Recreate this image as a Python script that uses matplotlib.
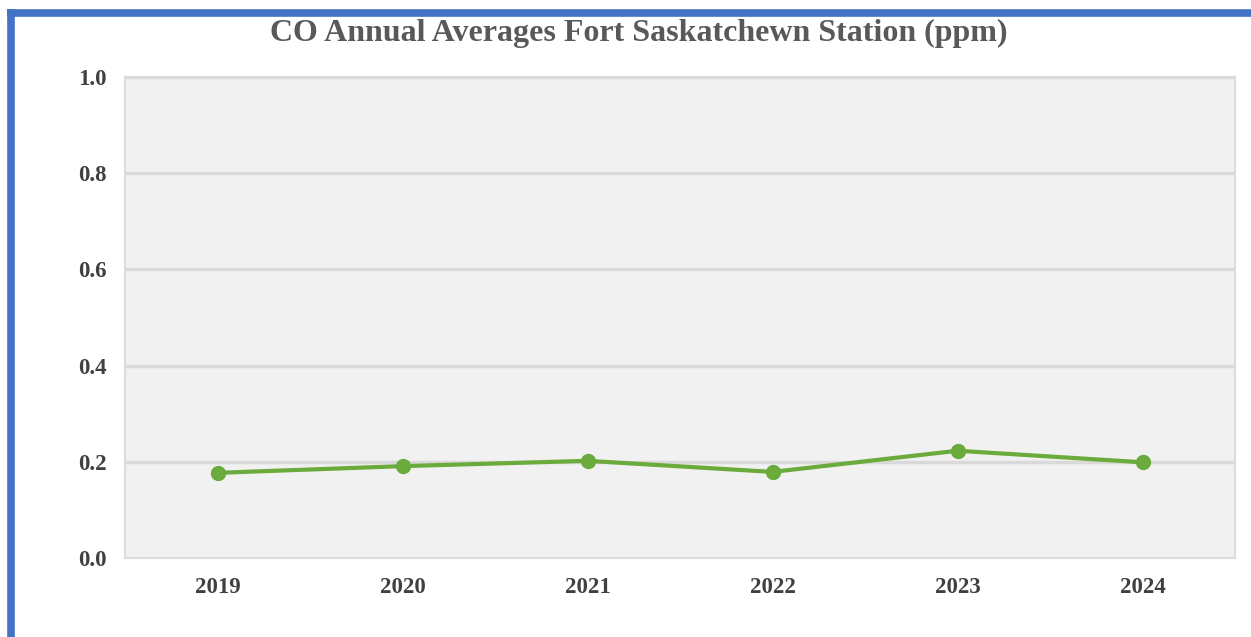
import matplotlib.pyplot as plt
from matplotlib.lines import Line2D

years = ["2019", "2020", "2021", "2022", "2023", "2024"]
co_ppm = [0.177, 0.191, 0.202, 0.179, 0.223, 0.199]
y_ticks = [0.0, 0.2, 0.4, 0.6, 0.8, 1.0]

W, H = 1251, 637
fig = plt.figure(figsize=(W / 100, H / 100), dpi=100)
fig.patch.set_facecolor("white")

# plot area in pixel terms
left, right, top, bottom = 125, 1235, 77, 558
ax = fig.add_axes([left / W, 1 - bottom / H, (right - left) / W, (bottom - top) / H])
ax.set_facecolor("#f1f1f1")

x = range(len(years))
ax.plot(x, co_ppm, color="#6aab3c", lw=3, marker="o", ms=10, zorder=3)

ax.set_xlim(-0.5, len(years) - 0.5)
ax.set_ylim(0, 1.0)
ax.set_yticks(y_ticks)
ax.set_yticklabels([f"{v:.1f}" for v in y_ticks])
ax.set_xticks(list(x))
ax.set_xticklabels(years)
for yv in y_ticks[1:]:
    ax.axhline(yv, color="#d9d9d9", lw=2.5, zorder=1)

ax.tick_params(length=0, colors="#404040")
ax.tick_params(axis="y", pad=13)
ax.tick_params(axis="x", pad=14)
for lab in ax.get_xticklabels() + ax.get_yticklabels():
    lab.set_fontfamily("Liberation Serif")
    lab.set_fontweight("bold")
    lab.set_fontsize(16.5)
for side, sp in ax.spines.items():
    sp.set_color("#dcdcdc")
    sp.set_linewidth(1.5)

fig.text(639 / W, 1 - 33 / H, "CO Annual Averages Fort Saskatchewn Station (ppm)",
         ha="center", va="center", fontsize=23, fontweight="bold",
         family="Liberation Serif", color="#595959")

# blue frame on top and left edges
fig.add_artist(Line2D([7 / W, 1.0], [1 - 12.5 / H] * 2, transform=fig.transFigure,
                      color="#4472c4", lw=5.5, solid_capstyle="butt"))
fig.add_artist(Line2D([11 / W] * 2, [0, 1 - 9 / H], transform=fig.transFigure,
                      color="#4472c4", lw=5.5, solid_capstyle="butt"))

fig.savefig("out.png", dpi=100)
